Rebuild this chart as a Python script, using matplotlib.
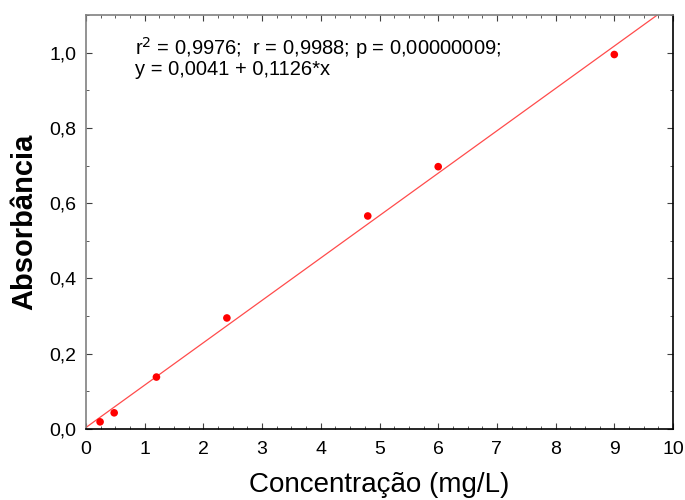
import matplotlib
matplotlib.use("Agg")
import matplotlib.pyplot as plt
from matplotlib.ticker import MultipleLocator, FuncFormatter
import numpy as np

plt.rcParams['font.family'] = ['Liberation Sans', 'DejaVu Sans']

# calibration data
conc = [0.24, 0.48, 1.2, 2.4, 4.8, 6.0, 9.0]
absorb = [0.019, 0.043, 0.138, 0.295, 0.566, 0.697, 0.995]

# regression from the chart
intercept = 0.0041
slope = 0.1126
stats_line = "r$^2$ = 0,9976;  r = 0,9988; p = 0,00000009;"
eq_line = "y = 0,0041 + 0,1126*x"

fig = plt.figure(figsize=(6.85, 5.0), dpi=100)
ax = fig.add_axes([86 / 685, 71 / 500, 587 / 685, 414 / 500])

ax.set_xlim(0, 10)
ax.set_ylim(0, 1.1)

# fitted line, clipped at the top of the plot
x_end = (1.1 - intercept) / slope
xs = np.array([0, x_end])
ax.plot(xs, intercept + slope * xs, color='#ff3838', lw=0.9, alpha=0.9)
ax.scatter(conc, absorb, s=30, color='#ff0000', zorder=3, edgecolors='none')

ax.xaxis.set_major_locator(MultipleLocator(1))
ax.xaxis.set_minor_locator(MultipleLocator(0.25))
ax.yaxis.set_major_locator(MultipleLocator(0.2))
ax.yaxis.set_minor_locator(MultipleLocator(0.1))
ax.yaxis.set_major_formatter(FuncFormatter(lambda v, p: f"{v:.1f}".replace('.', ',')))

ax.tick_params(which='both', direction='in', top=True, right=True,
               labelsize=14, color='#404040')
ax.tick_params(which='major', length=4)
ax.tick_params(which='minor', length=2.5)
ax.tick_params(axis='x', pad=9)
ax.tick_params(axis='y', pad=7)

for side in ['left', 'top']:
    ax.spines[side].set_color('#808080')
for side in ['right', 'bottom']:
    ax.spines[side].set_color('black')
for s in ax.spines.values():
    s.set_linewidth(1.2)

ax.text(0.0835, 0.903, stats_line, transform=ax.transAxes, fontsize=14.5,
        va='baseline', ha='left')
ax.text(0.0835, 0.855, eq_line, transform=ax.transAxes, fontsize=14.5,
        va='baseline', ha='left')

ax.set_xlabel("Concentração (mg/L)", fontsize=20, labelpad=10)
ax.set_ylabel("Absorbância", fontsize=21, fontweight='bold', labelpad=8)

fig.savefig("out.png", dpi=100)
